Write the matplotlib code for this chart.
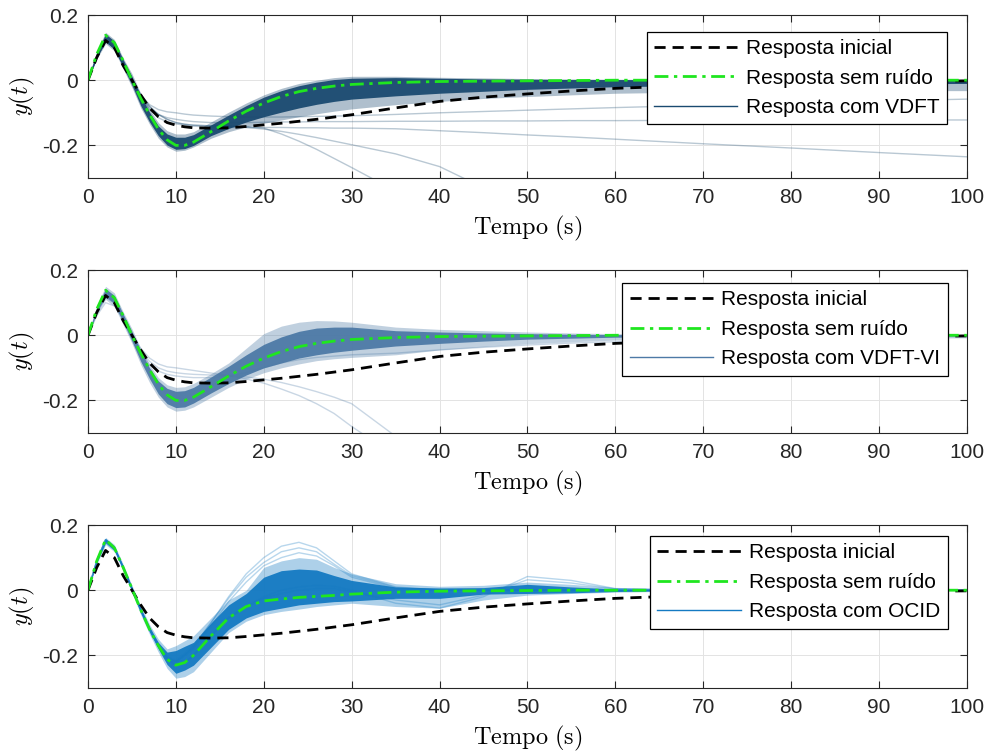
import numpy as np
import matplotlib
matplotlib.use("Agg")
import matplotlib.pyplot as plt
from matplotlib.lines import Line2D

plt.rcParams["font.family"] = ["Liberation Sans", "DejaVu Sans"]
plt.rcParams["mathtext.fontset"] = "cm"

nan = np.nan

tempo = [0, 1, 2, 3, 4, 5, 6, 7, 8, 9, 10, 11, 12, 14, 16, 18, 20, 22, 24, 26, 28,
         30, 35, 40, 45, 50, 55, 60, 70, 80, 90, 100]

resp_inicial = [0, 0.07, 0.122, 0.1, 0.045, 0.0, -0.045, -0.085, -0.112, -0.13, -0.138,
                -0.143, -0.146, -0.147, -0.146, -0.142, -0.137, -0.132, -0.126, -0.12,
                -0.113, -0.106, -0.085, -0.065, -0.052, -0.042, -0.033, -0.025, -0.015,
                -0.009, -0.005, -0.002]

sem_ruido_a = [0, 0.08, 0.138, 0.115, 0.06, 0.0, -0.055, -0.105, -0.15, -0.183, -0.2,
               -0.2, -0.19, -0.158, -0.125, -0.095, -0.07, -0.05, -0.035, -0.025, -0.018,
               -0.013, -0.007, -0.004, -0.003, -0.002, -0.001, 0, 0, 0, 0, 0]

sem_ruido_b = [0, 0.09, 0.155, 0.13, 0.07, 0.005, -0.06, -0.12, -0.17, -0.212, -0.23,
               -0.222, -0.2, -0.14, -0.085, -0.05, -0.033, -0.027, -0.022, -0.019, -0.016,
               -0.012, -0.006, -0.003, -0.002, -0.001, 0, 0, 0, 0, 0, 0]

# ---- VDFT (panel 1): envelopes of the Monte Carlo bundle + stray runs
vdft_out_hi = [0, 0.09, 0.147, 0.125, 0.068, 0.02, -0.04, -0.09, -0.13, -0.155, -0.165,
               -0.165, -0.158, -0.128, -0.098, -0.07, -0.045, -0.025, -0.01, 0.0, 0.008,
               0.012, 0.012, 0.009, 0.007, 0.005, 0.004, 0.003, 0.002, 0.001, 0.001, 0.0]
vdft_out_lo = [0, 0.065, 0.112, 0.09, 0.035, -0.022, -0.085, -0.135, -0.178, -0.205, -0.218,
               -0.215, -0.205, -0.178, -0.158, -0.143, -0.132, -0.122, -0.112, -0.103,
               -0.095, -0.088, -0.075, -0.065, -0.056, -0.05, -0.045, -0.04, -0.036, -0.034,
               -0.032, -0.032]
vdft_in_hi = [0, 0.085, 0.142, 0.12, 0.063, 0.012, -0.048, -0.098, -0.14, -0.165, -0.175,
              -0.175, -0.167, -0.137, -0.107, -0.078, -0.052, -0.032, -0.017, -0.006, 0.002,
              0.006, 0.008, 0.006, 0.004, 0.003, 0.002, 0.002, 0.001, 0.001, 0, 0]
vdft_in_lo = [0, 0.07, 0.118, 0.095, 0.04, -0.015, -0.078, -0.128, -0.17, -0.199, -0.212,
              -0.21, -0.2, -0.17, -0.148, -0.128, -0.112, -0.098, -0.085, -0.074, -0.065,
              -0.058, -0.048, -0.04, -0.034, -0.028, -0.024, -0.02, -0.016, -0.013, -0.011,
              -0.01]
vdft_runs = [
    [0, 0.07, 0.12, 0.1, 0.05, 0.0, -0.045, -0.08, -0.105, -0.12, -0.13, -0.135, -0.138,
     -0.14, -0.14, -0.142, -0.147, -0.165, -0.187, -0.212, -0.24, -0.268, -0.34, nan, nan,
     nan, nan, nan, nan, nan, nan, nan],
    [0, 0.07, 0.12, 0.1, 0.05, 0.0, -0.045, -0.08, -0.105, -0.12, -0.13, -0.135, -0.138,
     -0.14, -0.142, -0.145, -0.15, -0.157, -0.166, -0.176, -0.187, -0.198, -0.226, -0.265,
     -0.33, nan, nan, nan, nan, nan, nan, nan],
    [0, 0.07, 0.12, 0.1, 0.05, 0.0, -0.05, -0.09, -0.115, -0.128, -0.134, -0.138, -0.141,
     -0.144, -0.145, -0.145, -0.145, -0.145, -0.146, -0.146, -0.147, -0.147, -0.149, -0.155,
     -0.161, -0.168, -0.174, -0.181, -0.195, -0.208, -0.222, -0.235],
    [0, 0.07, 0.12, 0.1, 0.05, 0.0, -0.048, -0.085, -0.105, -0.115, -0.12, -0.124, -0.127,
     -0.13, -0.13, -0.13, -0.129, -0.128, -0.128, -0.127, -0.127, -0.127, -0.126, -0.126,
     -0.125, -0.125, -0.124, -0.124, -0.123, -0.123, -0.122, -0.122],
    [0, 0.07, 0.12, 0.1, 0.05, 0.0, -0.045, -0.075, -0.09, -0.097, -0.1, -0.104, -0.107,
     -0.11, -0.112, -0.113, -0.113, -0.113, -0.112, -0.111, -0.11, -0.109, -0.105, -0.1,
     -0.096, -0.092, -0.088, -0.084, -0.077, -0.07, -0.064, -0.058],
]

# ---- VDFT-VI (panel 2)
vi_out_hi = [0, 0.092, 0.15, 0.13, 0.072, 0.02, -0.04, -0.09, -0.13, -0.152, -0.16, -0.158,
             -0.148, -0.118, -0.085, -0.04, 0.005, 0.028, 0.04, 0.045, 0.044, 0.04, 0.025,
             0.018, 0.014, 0.01, 0.007, 0.005, 0.003, 0.002, 0.001, 0.001]
vi_out_lo = [0, 0.065, 0.11, 0.088, 0.032, -0.025, -0.09, -0.145, -0.19, -0.22, -0.233,
             -0.23, -0.22, -0.19, -0.16, -0.135, -0.115, -0.1, -0.088, -0.078, -0.072,
             -0.068, -0.06, -0.045, -0.035, -0.026, -0.02, -0.015, -0.012, -0.01, -0.009,
             -0.008]
vi_in_hi = [0, 0.085, 0.143, 0.122, 0.065, 0.012, -0.048, -0.1, -0.14, -0.163, -0.172,
            -0.17, -0.16, -0.128, -0.095, -0.06, -0.028, -0.005, 0.012, 0.022, 0.025, 0.025,
            0.014, 0.01, 0.007, 0.005, 0.003, 0.002, 0.001, 0.001, 0, 0]
vi_in_lo = [0, 0.072, 0.12, 0.097, 0.04, -0.018, -0.08, -0.133, -0.18, -0.21, -0.222, -0.22,
            -0.208, -0.177, -0.148, -0.122, -0.1, -0.085, -0.07, -0.06, -0.052, -0.046,
            -0.033, -0.025, -0.018, -0.012, -0.009, -0.006, -0.004, -0.003, -0.002, -0.002]
vi_runs = [
    [0, 0.06, 0.1, 0.09, 0.05, 0.0, -0.04, -0.07, -0.088, -0.097, -0.1, -0.104, -0.108,
     -0.116, -0.124, -0.134, -0.147, -0.165, -0.185, -0.21, -0.24, -0.28, -0.37, nan, nan,
     nan, nan, nan, nan, nan, nan, nan],
    [0, 0.07, 0.115, 0.1, 0.05, 0.0, -0.048, -0.08, -0.1, -0.11, -0.115, -0.118, -0.12,
     -0.122, -0.124, -0.128, -0.135, -0.145, -0.158, -0.173, -0.19, -0.21, -0.31, nan, nan,
     nan, nan, nan, nan, nan, nan, nan],
    [0, 0.07, 0.118, 0.1, 0.05, 0.0, -0.05, -0.09, -0.11, -0.12, -0.125, -0.128, -0.13,
     -0.13, -0.125, -0.115, -0.1, -0.085, -0.075, -0.068, -0.064, -0.06, -0.055, -0.045,
     -0.037, -0.03, -0.024, -0.02, -0.012, -0.008, -0.005, -0.004],
]

# ---- OCID (panel 3)
ocid_out_hi = [0, 0.1, 0.162, 0.14, 0.08, 0.015, -0.048, -0.105, -0.15, -0.18, -0.17,
               -0.155, -0.14, -0.085, -0.03, 0.0, 0.07, 0.09, 0.1, 0.095, 0.07, 0.05, 0.02,
               0.012, 0.015, 0.025, 0.018, 0.008, 0.002, 0.001, 0.001, 0.001]
ocid_out_lo = [0, 0.08, 0.14, 0.118, 0.058, -0.008, -0.075, -0.135, -0.19, -0.24, -0.27,
               -0.265, -0.25, -0.19, -0.13, -0.095, -0.075, -0.065, -0.058, -0.05, -0.045,
               -0.04, -0.05, -0.055, -0.03, -0.015, -0.01, -0.006, -0.002, -0.001, -0.001,
               -0.001]
ocid_in_hi = [0, 0.095, 0.158, 0.135, 0.075, 0.01, -0.055, -0.112, -0.16, -0.19, -0.185,
              -0.172, -0.16, -0.1, -0.045, -0.01, 0.04, 0.06, 0.065, 0.062, 0.045, 0.03,
              0.01, 0.007, 0.008, 0.018, 0.01, 0.004, 0.001, 0.0, 0.0, 0.0]
ocid_in_lo = [0, 0.085, 0.145, 0.122, 0.062, -0.003, -0.07, -0.128, -0.18, -0.228, -0.255,
              -0.245, -0.23, -0.175, -0.12, -0.085, -0.065, -0.055, -0.045, -0.04, -0.035,
              -0.033, -0.025, -0.025, -0.012, -0.01, -0.008, -0.004, -0.001, 0.0, 0.0, 0.0]
ocid_runs = [
    [0, 0.09, 0.155, 0.13, 0.07, 0.005, -0.06, -0.12, -0.17, -0.205, -0.22, -0.2, -0.175,
     -0.1, -0.02, 0.05, 0.1, 0.135, 0.147, 0.13, 0.09, 0.05, 0.01, 0.0, 0.0, 0.0, 0.0, 0.0,
     0.0, 0.0, 0.0, 0.0],
    [0, 0.09, 0.155, 0.13, 0.07, 0.005, -0.06, -0.12, -0.17, -0.205, -0.215, -0.195, -0.17,
     -0.1, -0.025, 0.04, 0.085, 0.118, 0.13, 0.118, 0.08, 0.045, 0.008, 0.0, 0.0, 0.0, 0.0,
     0.0, 0.0, 0.0, 0.0, 0.0],
    [0, 0.09, 0.155, 0.13, 0.07, 0.005, -0.06, -0.12, -0.17, -0.21, -0.22, -0.2, -0.18,
     -0.11, -0.035, 0.025, 0.075, 0.1, 0.115, 0.105, 0.075, 0.04, 0.005, 0.0, 0.0, 0.0,
     0.0, 0.0, 0.0, 0.0, 0.0, 0.0],
    [0, 0.09, 0.155, 0.13, 0.07, 0.005, -0.06, -0.12, -0.17, -0.212, -0.23, -0.222, -0.2,
     -0.14, -0.085, -0.05, -0.02, 0.0, 0.01, 0.015, 0.012, 0.0, -0.04, -0.055, -0.02, 0.042,
     0.03, 0.005, 0.0, 0.0, 0.0, 0.0],
    [0, 0.09, 0.155, 0.13, 0.07, 0.005, -0.06, -0.12, -0.17, -0.212, -0.23, -0.222, -0.2,
     -0.14, -0.085, -0.05, -0.025, -0.01, 0.0, 0.005, 0.005, -0.005, -0.03, -0.045, -0.015,
     0.032, 0.022, 0.004, 0.0, 0.0, 0.0, 0.0],
]

panels = [
    ("Resposta com VDFT", (0.10, 0.29, 0.44), sem_ruido_a,
     vdft_out_hi, vdft_out_lo, vdft_in_hi, vdft_in_lo, vdft_runs, 0.977, 0.896),
    ("Resposta com VDFT-VI", (0.30, 0.48, 0.65), sem_ruido_a,
     vi_out_hi, vi_out_lo, vi_in_hi, vi_in_lo, vi_runs, 0.978, 0.92),
    ("Resposta com OCID", (0.08, 0.48, 0.76), sem_ruido_b,
     ocid_out_hi, ocid_out_lo, ocid_in_hi, ocid_in_lo, ocid_runs, 0.978, 0.932),
]

fig = plt.figure(figsize=(9.92, 7.51), dpi=100)
bottoms = [0.763, 0.4234, 0.0839]
verde = "#1fe61f"

for (label, cor, sem_ruido, out_hi, out_lo, in_hi, in_lo, runs, lx, ly), b in zip(panels, bottoms):
    ax = fig.add_axes([0.0887, b, 0.886, 0.217])

    # bundle of identified-model responses
    ax.fill_between(tempo, out_lo, out_hi, color=cor, alpha=0.35, lw=0)
    ax.fill_between(tempo, in_lo, in_hi, color=cor, alpha=0.95, lw=0)
    for r in runs:
        ax.plot(tempo, r, color=cor, alpha=0.3, lw=1)

    ax.plot(tempo, resp_inicial, color="k", ls=(0, (4, 2.5)), lw=2)
    ax.plot(tempo, sem_ruido, color=verde, ls=(0, (5, 2, 1.2, 2)), lw=2)

    ax.set_xlim(0, 100)
    ax.set_ylim(-0.3, 0.2)
    ax.set_xticks(np.arange(0, 101, 10))
    ax.set_yticks([-0.2, 0, 0.2])
    ax.set_yticklabels(["-0.2", "0", "0.2"])
    ax.grid(True, color="#e3e3e3", lw=0.7)
    ax.set_axisbelow(True)
    ax.tick_params(direction="in", top=True, right=True, length=5, width=0.8,
                   labelsize=15, colors="#262626", pad=7)
    for s in ax.spines.values():
        s.set_color("#262626")
        s.set_linewidth(0.8)

    ax.set_xlabel(r"$\mathrm{Tempo\ (s)}$", fontsize=17.5, labelpad=5)
    ax.set_ylabel(r"$y(t)$", fontsize=17.5, labelpad=4)

    handles = [
        Line2D([], [], color="k", ls=(0, (4, 2.5)), lw=2),
        Line2D([], [], color=verde, ls=(0, (5, 2, 1.2, 2)), lw=2),
        Line2D([], [], color=cor, lw=1),
    ]
    leg = ax.legend(handles, ["Resposta inicial", "Resposta sem ruído", label],
                    loc="upper right", bbox_to_anchor=(lx, ly), borderaxespad=0,
                    fontsize=15, handlelength=4.0, fancybox=False, framealpha=1,
                    edgecolor="k", labelspacing=0.5, borderpad=0.35, handletextpad=0.4)
    leg.get_frame().set_linewidth(0.9)

fig.savefig("out.png", dpi=100)
